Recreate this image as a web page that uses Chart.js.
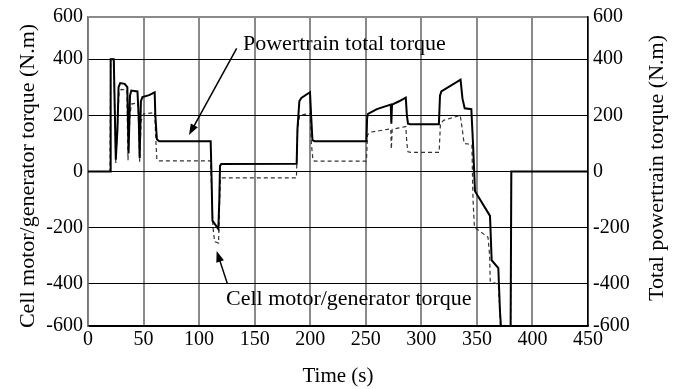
<!DOCTYPE html>
<html>
<head>
<meta charset="utf-8">
<script src="https://cdn.jsdelivr.net/npm/chart.js@4.4.0/dist/chart.umd.min.js"></script>
<style>
html,body{margin:0;padding:0;background:#fff}
#wrap{width:685px;height:389px}
</style>
</head>
<body>
<div id="wrap"><canvas id="chartCanvas"></canvas></div>
<script>
// total powertrain torque (solid)
var totalTime=[0,19.8,20.4,23.2,25,26.5,27.5,29,33,35.4,36.5,37.8,39,44.5,45.6,46.5,47.6,49,55,60,60.6,62,64,110.4,111.2,112,117.3,118.2,118.8,120,187.8,188.5,190.2,192,199.8,200.8,202,204,250.6,251.2,252,260,272.5,273,273.6,280,286,287,288,290,315.8,316.8,318,335.3,337,339,345,346.5,348.3,361.8,363.3,369.3,370.8,372.5,374.5,377,380.3,381,450]
var totalTorque=[0,0,400,400,42,150,300,315,312,300,65,270,288,285,200,47,250,265,272,282,200,115,108,108,-20,-175,-205,-100,20,27,28,150,250,262,282,200,112,108,108,190,205,222,238,170,238,250,263,200,170,168,168,270,285,327,260,225,222,100,-70,-158,-316,-344,-500,-600,-560,-600,-600,0,0]
// cell motor/generator torque (dashed)
var cellTime=[0,19.8,20.4,23.2,25,27,28,30,35,36,37.8,39,45,46.5,47.8,50,60,61.2,62,64,110.4,111.5,112.5,114,117.5,118.5,119.2,121,187.6,188.6,190.5,200,201,202.5,204,250.6,251.5,254,262,272.5,273,273.8,280,286,287,288,291,316,317.2,320,335,336.5,338.5,342,345.5,346.5,347.8,360,361.5,362,369.3,370.8,371.5,380.3,381,450]
var cellTorque=[0,0,400,400,30,200,285,292,290,40,200,240,245,35,180,205,210,100,42,38,38,-100,-200,-250,-255,-100,-25,-23,-23,150,200,207,100,40,37,37,130,140,145,152,80,150,155,160,100,70,68,68,170,182,200,160,100,98,95,-100,-199,-234,-300,-390,-402,-500,-600,-600,0,0]

var xTicks=[0,50,100,150,200,250,300,350,400,450]
var yTickPos=[-550,-400,-200,0,200,400,550]
var yTickLabels=['-600','-400','-200','0','200','400','600']

var serif="'Liberation Serif','Times New Roman',serif"

function pts(xs,ys){
	return xs.map(function(x,i){return {x:x,y:ys[i]}})
}

function setYTicks(scale){
	scale.ticks=yTickPos.map(function(v){return {value:v}})
}

function yLabel(v){
	var i=yTickPos.indexOf(v)
	return i<0?'':yTickLabels[i]
}

// arrows, notes and y axis titles
var notes={
	id:'notes',
	afterDraw:function(chart){
		var c=chart.ctx, a=chart.chartArea
		var xs=chart.scales.x, ys=chart.scales.y
		c.save()
		c.fillStyle='#000'
		c.strokeStyle='#000'
		c.font='22px '+serif
		c.textBaseline='middle'
		c.textAlign='left'
		c.fillText('Powertrain total torque',243,44)
		c.fillText('Cell motor/generator torque',226,299)
		arrow(c,xs.getPixelForValue(133.8),ys.getPixelForValue(438),xs.getPixelForValue(90.9),ys.getPixelForValue(130))
		arrow(c,xs.getPixelForValue(125.5),ys.getPixelForValue(-400),xs.getPixelForValue(115.8),ys.getPixelForValue(-283))
		c.font='22px '+serif
		c.textAlign='center'
		c.save()
		c.translate(a.left-60,176)
		c.rotate(-Math.PI/2)
		c.fillText('Cell motor/generator torque (N.m)',0,0)
		c.restore()
		c.save()
		c.translate(a.right+69,168)
		c.rotate(-Math.PI/2)
		c.fillText('Total powertrain torque (N.m)',0,0)
		c.restore()
		c.restore()
	}
}

function arrow(c,x1,y1,x2,y2){
	var ang=Math.atan2(y2-y1,x2-x1), len=11, w=4
	c.lineWidth=1.5
	c.beginPath()
	c.moveTo(x1,y1)
	c.lineTo(x2-Math.cos(ang)*len*0.8,y2-Math.sin(ang)*len*0.8)
	c.stroke()
	c.beginPath()
	c.moveTo(x2,y2)
	c.lineTo(x2-Math.cos(ang)*len-Math.sin(ang)*w,y2-Math.sin(ang)*len+Math.cos(ang)*w)
	c.lineTo(x2-Math.cos(ang)*len+Math.sin(ang)*w,y2-Math.sin(ang)*len-Math.cos(ang)*w)
	c.closePath()
	c.fill()
}

var ctx=document.getElementById('chartCanvas').getContext('2d')
new Chart(ctx,{
	type:'line',
	data:{
		datasets:[
		{
			label:'Powertrain total torque',
			data:pts(totalTime,totalTorque),
			borderColor:'#000',
			borderWidth:2,
			pointRadius:0,
			tension:0,
			yAxisID:'y'
		},
		{
			label:'Cell motor/generator torque',
			data:pts(cellTime,cellTorque),
			borderColor:'#333',
			borderWidth:1.2,
			borderDash:[4,3],
			pointRadius:0,
			tension:0,
			yAxisID:'y'
		}
		]
	},
	options:{
		responsive:true,
		maintainAspectRatio:false,
		animation:false,
		layout:{padding:{top:14,left:0,right:0,bottom:0}},
		plugins:{legend:{display:false},tooltip:{enabled:false}},
		scales:{
			x:{
				type:'linear',
				min:0,max:450,
				afterBuildTicks:function(s){s.ticks=xTicks.map(function(v){return {value:v}})},
				afterFit:function(s){s.height=63},
				grid:{color:'#8a8a8a',lineWidth:2,drawTicks:false},
				border:{color:'#000',width:1.5},
				ticks:{color:'#000',font:{family:serif,size:20},padding:2,maxRotation:0},
				title:{display:true,text:'Time (s)',color:'#000',font:{family:serif,size:21},padding:{top:4,bottom:0}}
			},
			y:{
				type:'linear',
				position:'left',
				min:-550,max:550,
				afterBuildTicks:setYTicks,
				afterFit:function(s){s.width=88},
				grid:{
					color:function(c){return c.tick && c.tick.value===550?'#8a8a8a':'#000'},
					lineWidth:function(c){return c.tick && c.tick.value===550?2:1},
					drawTicks:false
				},
				border:{color:'#777',width:1.5},
				ticks:{color:'#000',font:{family:serif,size:20},padding:5,callback:yLabel}
			},
			y2:{
				type:'linear',
				position:'right',
				min:-550,max:550,
				afterBuildTicks:setYTicks,
				afterFit:function(s){s.width=97},
				grid:{display:false,drawTicks:false},
				border:{color:'#000',width:1.5},
				ticks:{color:'#000',font:{family:serif,size:20},padding:5,callback:yLabel}
			}
		}
	},
	plugins:[notes]
})
</script>
</body>
</html>
